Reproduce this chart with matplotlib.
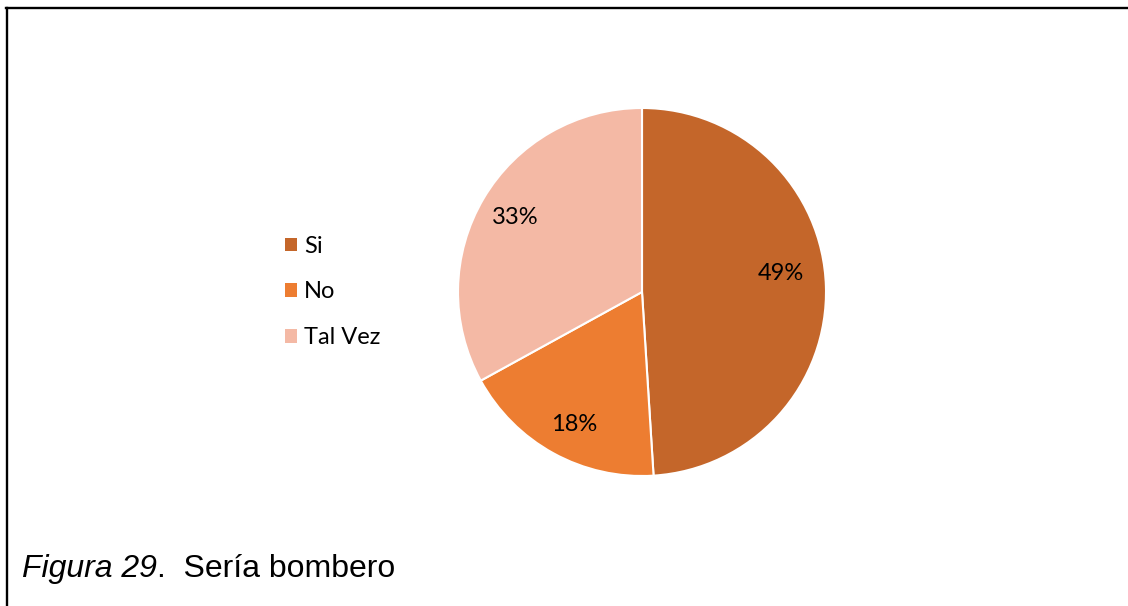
import matplotlib
matplotlib.use('Agg')
import matplotlib.pyplot as plt
import numpy as np
from matplotlib.patches import Patch
from matplotlib.lines import Line2D

# Respuestas a la pregunta "Sería bombero"
labels = ['Si', 'No', 'Tal Vez']
shares = [49, 18, 33]
colors = ['#C4662A', '#ED7D31', '#F4B9A5']

W, H = 1128, 606
fig = plt.figure(figsize=(W / 100, H / 100), dpi=100)
fig.patch.set_facecolor('white')

# marco: solo borde superior e izquierdo
fig.add_artist(Line2D([6 / W, 1.0], [1 - 7.5 / H, 1 - 7.5 / H], color='black', lw=1.7,
                      transform=fig.transFigure))
fig.add_artist(Line2D([6.5 / W, 6.5 / W], [0.0, 1 - 7.5 / H], color='black', lw=1.7,
                      transform=fig.transFigure))

# pastel centrado en (642, 292) px con radio 184 px
cx, cy, r = 642, 292, 184
ax = fig.add_axes([(cx - r) / W, (H - cy - r) / H, 2 * r / W, 2 * r / H])
wedges, texts, autotexts = ax.pie(
    shares, colors=colors, startangle=90, counterclock=False,
    autopct='%1.0f%%', pctdistance=0.78,
    wedgeprops=dict(edgecolor='white', linewidth=1.5),
    textprops=dict(fontsize=17, family='Lato', color='black'))

# ajuste fino de la posicion de las etiquetas (distancia, giro en grados)
label_dist = [0.76, 0.81, 0.80]
label_turn = [6.0, 1.5, 0.4]
for w, t, d, g in zip(wedges, autotexts, label_dist, label_turn):
    ang = np.deg2rad((w.theta1 + w.theta2) / 2 + g)
    t.set_position((d * np.cos(ang), d * np.sin(ang)))

ax.set_xlim(-1, 1)
ax.set_ylim(-1, 1)
ax.set_aspect('equal')
ax.axis('off')

handles = [Patch(facecolor=c, edgecolor='none') for c in colors]
fig.legend(handles, labels, loc='center left',
           bbox_to_anchor=(285 / W, (H - 292) / H),
           frameon=False, prop=dict(family='Lato', size=17),
           handlelength=0.5, handleheight=0.5, handletextpad=0.3,
           labelspacing=1.05, borderpad=0, borderaxespad=0)

# pie de figura
base_y = (H - 577) / H
t1 = fig.text(22 / W, base_y, 'Figura 29', fontsize=23, style='italic',
              family='Liberation Sans', va='baseline')
fig.canvas.draw()
bb = t1.get_window_extent()
fig.text(bb.x1 / W, base_y, '.  Sería bombero', fontsize=23,
         family='Liberation Sans', va='baseline')

fig.savefig('out.png', dpi=100)
